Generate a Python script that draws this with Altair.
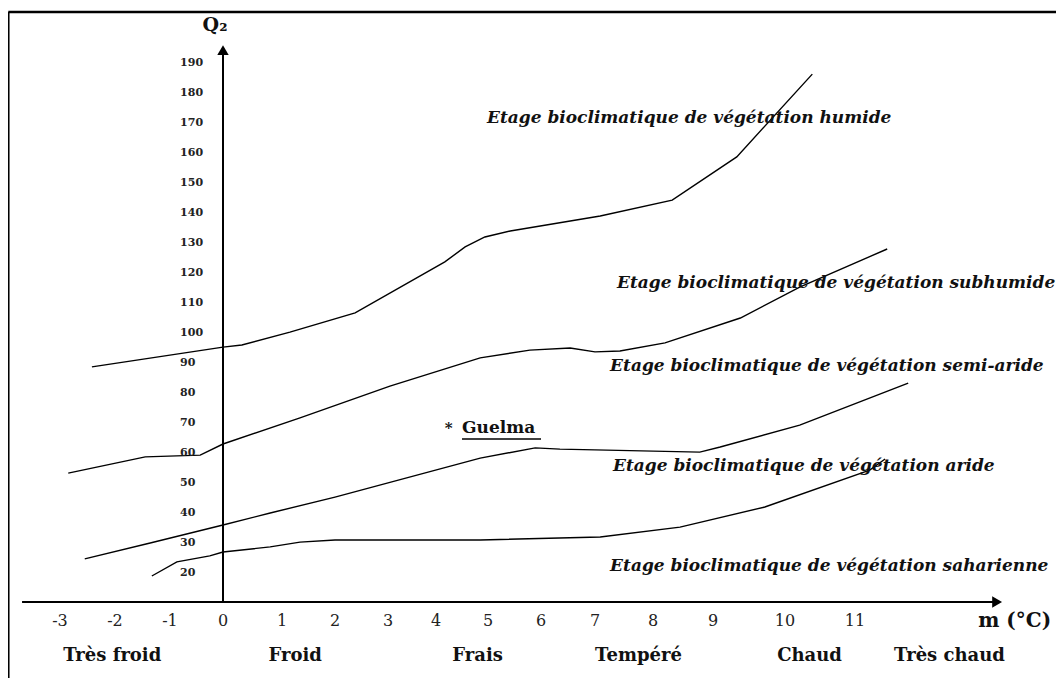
import altair as alt
import pandas as pd

# ---------------- data ----------------
# x tick labels (m, °C) and their positions (piecewise axis of the original figure)
X_TICKS = [-3, -2, -1, 0, 1, 2, 3, 4, 5, 6, 7, 8, 9, 10, 11]
X_TICK_LABELS = ["-3", "-2", "-1", "0", "1", "2", "3", "4", "5", "6", "7", "8", "9", "10", "11"]
X_RANGE = [52, 107, 162, 215, 274, 327, 380, 428, 480, 533, 587, 645, 705, 777, 847]
Y_TICKS = [20, 30, 40, 50, 60, 70, 80, 90, 100, 110, 120, 130, 140, 150, 160, 170, 180, 190]

humide_m = [-2.42, 0.0, 0.32, 1.15, 2.38, 4.17, 4.56, 4.94, 5.42, 7.09, 8.32, 9.33, 10.39]
humide_q = [88.7, 95.3, 96.0, 100.3, 106.7, 123.7, 128.7, 132.0, 134.0, 139.0, 144.3, 158.7, 186.3]

subhum_m = [-2.85, -1.45, -0.43, 0.0, 1.34, 3.04, 4.85, 5.79, 6.54, 7.0, 7.43, 8.2, 9.38, 10.21, 11.46]
subhum_q = [53.3, 58.7, 59.3, 63.0, 71.7, 82.3, 91.7, 94.3, 95.0, 93.7, 94.0, 96.7, 105.0, 115.3, 128.0]

semiar_m = [-2.55, -1.36, 0.0, 0.8, 2.0, 4.85, 5.89, 6.35, 8.78, 9.1, 10.21, 11.76]
semiar_q = [24.7, 30.0, 36.0, 40.0, 45.3, 58.3, 61.7, 61.3, 60.3, 62.0, 69.3, 83.3]

aride_m = [-1.33, -0.87, -0.25, 0.0, 0.8, 1.34, 2.0, 4.85, 7.09, 8.45, 9.72, 11.21, 11.43]
aride_q = [19.0, 23.7, 25.7, 27.0, 28.7, 30.3, 31.0, 31.0, 32.0, 35.3, 42.0, 54.3, 58.0]

stage_labels = [
    "Etage bioclimatique de végétation humide",
    "Etage bioclimatique de végétation subhumide",
    "Etage bioclimatique de végétation semi-aride",
    "Etage bioclimatique de végétation aride",
    "Etage bioclimatique de végétation saharienne",
]
stage_m = [4.98, 7.38, 7.26, 7.31, 7.26]
stage_q = [171.7, 116.7, 89.0, 55.7, 22.3]

cat_labels = ["Très froid", "Froid", "Frais", "Tempéré", "Chaud", "Très chaud"]
cat_m = [-2.05, 1.25, 4.8, 7.75, 10.35, 12.35]

station_label = "Guelma"
station_m = 4.17
station_q = 68.3

# ---------------- tables ----------------
rows = []
for name, ms, qs in [("humide", humide_m, humide_q), ("subhumide", subhum_m, subhum_q),
                     ("semiaride", semiar_m, semiar_q), ("aride", aride_m, aride_q)]:
    for i, (m, q) in enumerate(zip(ms, qs)):
        rows.append({"curve": name, "i": i, "m": m, "q": q})
curves = pd.DataFrame(rows)

XS = alt.Scale(domain=X_TICKS, range=X_RANGE, nice=False, zero=False)
YS = alt.Scale(domain=[-15, 208.333], nice=False, zero=False)

def X(f="m"):
    return alt.X(f"{f}:Q", scale=XS, axis=None)

def Y(f="q"):
    return alt.Y(f"{f}:Q", scale=YS, axis=None)

FONT = "DejaVu Serif"

lines = alt.Chart(curves).mark_line(color="black", strokeWidth=1.4).encode(
    x=X(), y=Y(), detail="curve:N", order="i:Q")

# axes (drawn as rules)
axes_df = pd.DataFrame([
    {"m": -3.69, "m2": 13.0, "q": 10.33, "q2": 10.33},   # horizontal axis
    {"m": 0.0, "m2": 0.0, "q": 10.33, "q2": 194.0},      # vertical axis
])
axes = alt.Chart(axes_df).mark_rule(color="black", strokeWidth=2).encode(
    x=X(), x2="m2:Q", y=Y(), y2="q2:Q")

arrow_df = pd.DataFrame([
    {"m": 13.03, "q": 10.33, "shape": "triangle-right"},
    {"m": 0.0, "q": 194.3, "shape": "triangle-up"},
])
arrows = alt.Chart(arrow_df).mark_point(filled=True, color="black", opacity=1, size=130).encode(
    x=X(), y=Y(), shape=alt.Shape("shape:N", scale=None, legend=None))

# frame
frame_df = pd.DataFrame([
    {"m": -3.94, "m2": -3.94, "q": -15, "q2": 207.0},
    {"m": -3.94, "m2": 13.96, "q": 207.0, "q2": 207.0},
])
frame = alt.Chart(frame_df).mark_rule(color="black", strokeWidth=2.5).encode(
    x=X(), x2="m2:Q", y=Y(), y2="q2:Q")

# y tick labels
ylab = alt.Chart(pd.DataFrame({"v": Y_TICKS, "m": [-0.81] * len(Y_TICKS)})).mark_text(
    align="left", baseline="middle", font=FONT, fontWeight="bold", fontSize=11, color="#222"
).encode(x=X(), y=Y("v"), text="v:Q")

# x tick labels
xlab = alt.Chart(pd.DataFrame({"m": X_TICKS, "t": X_TICK_LABELS, "q": [4.0] * len(X_TICKS)})).mark_text(
    align="center", baseline="middle", font=FONT, fontSize=16, color="#222"
).encode(x=X(), y=Y(), text="t:N")

catlab = alt.Chart(pd.DataFrame({"t": cat_labels, "m": cat_m, "q": [-7.7] * len(cat_m)})).mark_text(
    align="center", baseline="middle", font=FONT, fontWeight="bold", fontSize=18, color="#111"
).encode(x=X(), y=Y(), text="t:N")

stages = alt.Chart(pd.DataFrame({"t": stage_labels, "m": stage_m, "q": stage_q})).mark_text(
    align="left", baseline="middle", font=FONT, fontWeight="bold", fontStyle="italic",
    fontSize=17, color="#111"
).encode(x=X(), y=Y(), text="t:N")

station = alt.Chart(pd.DataFrame({"t": ["*"], "m": [station_m], "q": [station_q]})).mark_text(
    align="left", baseline="middle", font=FONT, fontWeight="bold", fontSize=15, color="#111"
).encode(x=X(), y=Y(), text="t:N")
station_name = alt.Chart(pd.DataFrame({"t": [station_label], "m": [4.5], "q": [station_q]})).mark_text(
    align="left", baseline="middle", font=FONT, fontWeight="bold", fontSize=17, color="#111"
).encode(x=X(), y=Y(), text="t:N")
underline = alt.Chart(pd.DataFrame({"m": [4.5], "m2": [6.0], "q": [64.7]})).mark_rule(
    color="black", strokeWidth=1.5).encode(x=X(), x2="m2:Q", y=Y())

q2 = alt.Chart(pd.DataFrame({"t": ["Q₂"], "m": [-0.15], "q": [202.7]})).mark_text(
    align="center", baseline="middle", font=FONT, fontWeight="bold", fontSize=19, color="#111"
).encode(x=X(), y=Y(), text="t:N")
munit = alt.Chart(pd.DataFrame({"t": ["m (°C)"], "m": [12.76], "q": [4.0]})).mark_text(
    align="left", baseline="middle", font=FONT, fontWeight="bold", fontSize=20, color="#111"
).encode(x=X(), y=Y(), text="t:N")

chart = alt.layer(
    frame, lines, axes, arrows, ylab, xlab, catlab, stages, station, station_name, underline, q2, munit
).properties(width=1048, height=670, padding=0, autosize="none", background="white"
).configure_view(stroke=None)

chart.save("out.html", embed_options={"renderer": "svg", "actions": False})
